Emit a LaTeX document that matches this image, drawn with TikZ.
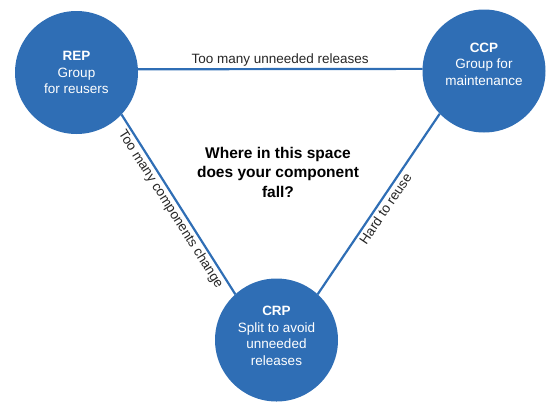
\documentclass[tikz,border=0pt]{standalone}
\usepackage{fontspec}
\setmainfont{Liberation Sans}
\usepackage{tikz}
\usetikzlibrary{positioning}
\definecolor{capblue}{RGB}{47,110,181}

\begin{document}
\begin{tikzpicture}[x=1pt, y=-1pt,
  principle/.style={circle, fill=capblue, draw=none, minimum size=123pt,
                    inner sep=0pt, outer sep=0pt},
  ptext/.style={align=center, text=white, font=\fontsize{13.5}{16.5}\selectfont},
  pull/.style={draw=capblue, line width=2.2pt},
  why/.style={font=\fontsize{13.5}{16}\selectfont, text=black!85, inner sep=2pt}]
\useasboundingbox (0,0) rectangle (560,408);
\node[principle] (rep) at (76.5,72.5) {};
\node[principle] (ccp) at (484,71)    {};
\node[principle] (crp) at (276.5,340) {};
\node[ptext] (reptext) at (rep.center) {\textbf{REP}\\ Group\\ for reusers};
\node[ptext] (ccptext) at ([yshift=7pt]ccp.center) {\textbf{CCP}\\ Group for\\ maintenance};
\node[ptext] (crptext) at ([yshift=4pt]crp.center) {\textbf{CRP}\\ Split to avoid\\ unneeded\\ releases};
\draw[pull] (rep.3) -- node[why, above] (unneeded) {Too many unneeded releases} (ccp.178);
\draw[pull] (rep.-43) -- node[why, below, sloped] (change) {Too many components change} (crp.132);
\draw[pull] (crp.48) -- node[why, below, sloped] (reuse) {Hard to reuse} (ccp.-136);
\node[font=\bfseries\fontsize{15.5}{19.5}\selectfont, align=center] (question) at (278,172)
  {Where in this space\\ does your component\\ fall?};
\end{tikzpicture}
\end{document}
